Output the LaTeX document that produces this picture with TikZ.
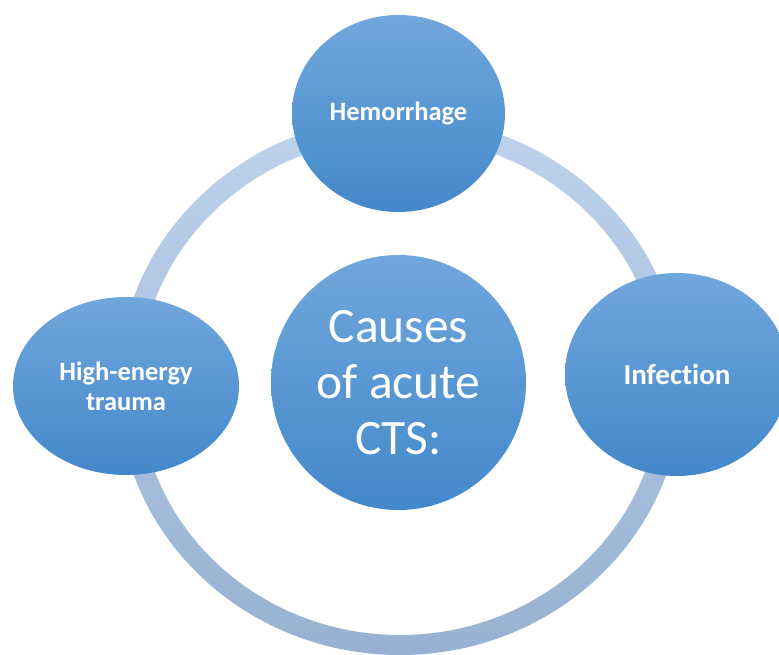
\documentclass[tikz,border=0pt]{standalone}
\usepackage{fontspec}
\setmainfont{Carlito}[Ligatures={NoCommon}]
\usetikzlibrary{shapes.geometric}
\definecolor{nodetop}{HTML}{70A7DC}
\definecolor{nodebot}{HTML}{4388CA}
\definecolor{ringtop}{HTML}{BED2EC}
\definecolor{ringbot}{HTML}{98B1D2}
\begin{document}
\begin{tikzpicture}[x=1pt,y=-1pt,
  bubble/.style={ellipse, inner sep=0pt, top color=nodetop, bottom color=nodebot, draw=none, text=white, align=center},
  labelfont/.style={font=\fontsize{26.5}{30}\selectfont\bfseries},
  biglabelfont/.style={font=\fontsize{29}{33}\selectfont\bfseries},
  centrefont/.style={font=\fontsize{49.5}{56}\selectfont},
]
\useasboundingbox (0,0) rectangle (779,654);
% ring
\shade[top color=ringtop, bottom color=ringbot, even odd rule]
  (400,386) ellipse [x radius=282pt, y radius=269pt]
  (400,386) ellipse [x radius=261pt, y radius=249pt];
% nodes
\node[bubble, minimum width=255pt, minimum height=255pt, centrefont] (causes) at (398.5,382.5) {Causes\\of acute\\CTS:};
\node[bubble, minimum width=213pt, minimum height=197pt, labelfont] (hem) at (398.5,113.5) {Hemorrhage};
\node[bubble, minimum width=224pt, minimum height=203pt, biglabelfont] (inf) at (677,374.5) {Infection};
\node[bubble, minimum width=226pt, minimum height=178pt, labelfont] (trauma) at (126,386) {High-energy\\trauma};
\end{tikzpicture}
\end{document}
